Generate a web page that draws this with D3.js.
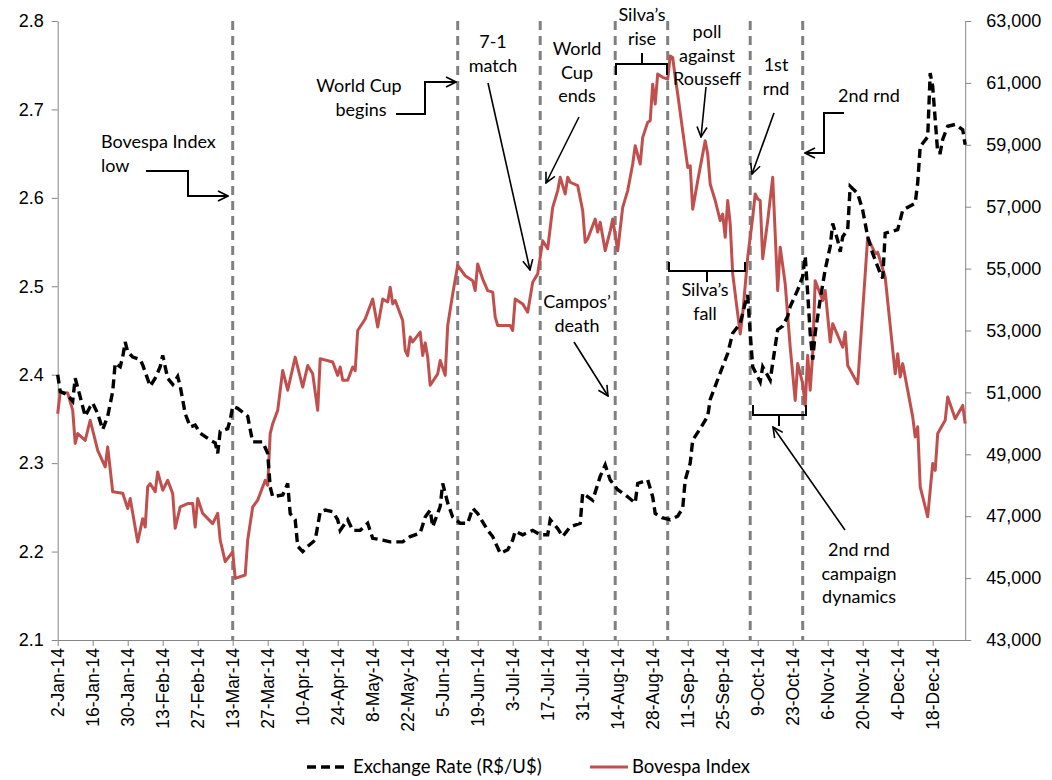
<!DOCTYPE html>
<html>
<head>
<meta charset="utf-8">
<script src="https://cdn.jsdelivr.net/npm/d3@7"></script>
<style>
  body { margin: 0; background: #fff; }
  svg { font-family: Lato, "Open Sans", sans-serif; }
  .axis path, .axis line { stroke: #868686; }
  .axis text { fill: #000; }
  .note { font-size: 18px; fill: #000; }
</style>
</head>
<body>
<svg id="chart" width="1052" height="780"></svg>
<script>
// tick labels on the date axis
const xTickLabels = ["2-Jan-14","16-Jan-14","30-Jan-14","13-Feb-14","27-Feb-14","13-Mar-14","27-Mar-14",
  "10-Apr-14","24-Apr-14","8-May-14","22-May-14","5-Jun-14","19-Jun-14","3-Jul-14","17-Jul-14",
  "31-Jul-14","14-Aug-14","28-Aug-14","11-Sep-14","25-Sep-14","9-Oct-14","23-Oct-14","6-Nov-14",
  "20-Nov-14","4-Dec-14","18-Dec-14"];
const leftTicks = [2.1, 2.2, 2.3, 2.4, 2.5, 2.6, 2.7, 2.8];
const rightTicks = [43000, 45000, 47000, 49000, 51000, 53000, 55000, 57000, 59000, 61000, 63000];

// exchange rate R$/U$
const exchangeRate = [
  ["2014-01-02",2.400],["2014-01-03",2.381],["2014-01-06",2.377],["2014-01-08",2.370],["2014-01-09",2.396],
  ["2014-01-11",2.375],["2014-01-13",2.353],["2014-01-15",2.364],["2014-01-16",2.368],["2014-01-18",2.356],
  ["2014-01-20",2.338],["2014-01-22",2.353],["2014-01-24",2.381],["2014-01-25",2.413],["2014-01-27",2.409],
  ["2014-01-28",2.420],["2014-01-29",2.437],["2014-01-30",2.426],["2014-02-01",2.420],["2014-02-04",2.417],
  ["2014-02-05",2.411],["2014-02-08",2.387],["2014-02-10",2.396],["2014-02-12",2.409],["2014-02-13",2.422],
  ["2014-02-15",2.396],["2014-02-17",2.389],["2014-02-19",2.398],["2014-02-20",2.387],["2014-02-22",2.356],
  ["2014-02-24",2.341],["2014-02-26",2.343],["2014-02-28",2.334],["2014-03-04",2.326],["2014-03-06",2.323],
  ["2014-03-07",2.311],["2014-03-08",2.336],["2014-03-11",2.339],["2014-03-12",2.349],["2014-03-13",2.364],
  ["2014-03-15",2.362],["2014-03-19",2.353],["2014-03-20",2.338],["2014-03-21",2.324],["2014-03-25",2.324],
  ["2014-03-27",2.311],["2014-03-28",2.273],["2014-03-29",2.262],["2014-04-02",2.264],["2014-04-04",2.277],
  ["2014-04-05",2.243],["2014-04-07",2.236],["2014-04-08",2.206],["2014-04-10",2.200],["2014-04-12",2.206],
  ["2014-04-15",2.213],["2014-04-17",2.245],["2014-04-19",2.247],["2014-04-22",2.245],["2014-04-24",2.236],
  ["2014-04-25",2.224],["2014-04-28",2.236],["2014-04-30",2.224],["2014-05-03",2.224],["2014-05-06",2.232],
  ["2014-05-08",2.215],["2014-05-12",2.213],["2014-05-15",2.211],["2014-05-20",2.211],["2014-05-23",2.217],
  ["2014-05-27",2.221],["2014-05-29",2.239],["2014-05-31",2.247],["2014-06-01",2.228],["2014-06-04",2.251],
  ["2014-06-05",2.277],["2014-06-07",2.255],["2014-06-09",2.239],["2014-06-12",2.232],["2014-06-15",2.232],
  ["2014-06-17",2.249],["2014-06-19",2.243],["2014-06-23",2.224],["2014-06-25",2.217],["2014-06-28",2.198],
  ["2014-07-01",2.202],["2014-07-03",2.213],["2014-07-04",2.223],["2014-07-07",2.219],["2014-07-11",2.224],
  ["2014-07-14",2.219],["2014-07-17",2.219],["2014-07-18",2.236],["2014-07-21",2.226],["2014-07-23",2.217],
  ["2014-07-26",2.228],["2014-07-30",2.232],["2014-07-31",2.266],["2014-08-04",2.258],["2014-08-07",2.285],
  ["2014-08-09",2.298],["2014-08-11",2.281],["2014-08-14",2.270],["2014-08-18",2.262],["2014-08-21",2.255],
  ["2014-08-22",2.277],["2014-08-26",2.281],["2014-08-28",2.262],["2014-08-29",2.243],["2014-09-01",2.238],
  ["2014-09-04",2.236],["2014-09-07",2.240],["2014-09-09",2.249],["2014-09-10",2.281],["2014-09-12",2.300],
  ["2014-09-13",2.326],["2014-09-16",2.339],["2014-09-19",2.353],["2014-09-20",2.372],["2014-09-24",2.402],
  ["2014-09-27",2.424],["2014-09-29",2.447],["2014-10-02",2.458],["2014-10-04",2.481],["2014-10-05",2.490],
  ["2014-10-06",2.447],["2014-10-07",2.409],["2014-10-10",2.392],["2014-10-11",2.409],["2014-10-14",2.394],
  ["2014-10-15",2.413],["2014-10-17",2.451],["2014-10-19",2.455],["2014-10-21",2.466],["2014-10-22",2.477],
  ["2014-10-25",2.496],["2014-10-27",2.511],["2014-10-28",2.534],["2014-10-29",2.492],["2014-10-30",2.447],
  ["2014-10-31",2.417],["2014-11-01",2.447],["2014-11-03",2.485],["2014-11-05",2.519],["2014-11-07",2.545],
  ["2014-11-08",2.571],["2014-11-10",2.552],["2014-11-11",2.539],["2014-11-12",2.556],["2014-11-14",2.564],
  ["2014-11-15",2.613],["2014-11-18",2.605],["2014-11-20",2.586],["2014-11-22",2.556],["2014-11-24",2.537],
  ["2014-11-27",2.515],["2014-11-28",2.509],["2014-11-29",2.560],["2014-12-04",2.564],["2014-12-06",2.586],
  ["2014-12-11",2.594],["2014-12-12",2.617],["2014-12-13",2.658],["2014-12-16",2.669],["2014-12-17",2.741],
  ["2014-12-18",2.726],["2014-12-20",2.651],["2014-12-21",2.651],["2014-12-22",2.666],["2014-12-24",2.681],
  ["2014-12-27",2.683],["2014-12-30",2.677],["2014-12-31",2.660]
];

// Bovespa index (right axis)
const bovespa = [
  ["2014-01-02",50310],["2014-01-03",51010],["2014-01-06",50980],["2014-01-08",50420],["2014-01-09",49350],
  ["2014-01-10",49670],["2014-01-13",49450],["2014-01-15",50100],["2014-01-18",49130],["2014-01-21",48590],
  ["2014-01-22",49240],["2014-01-24",47790],["2014-01-28",47740],["2014-01-30",47250],["2014-01-31",47570],
  ["2014-02-03",46170],["2014-02-05",46920],["2014-02-06",46650],["2014-02-07",47950],["2014-02-08",48050],
  ["2014-02-10",47790],["2014-02-11",48430],["2014-02-13",47840],["2014-02-15",48160],["2014-02-17",47730],
  ["2014-02-18",46610],["2014-02-20",47300],["2014-02-23",47410],["2014-02-25",47410],["2014-02-26",46650],
  ["2014-02-27",47570],["2014-03-01",47090],["2014-03-05",46760],["2014-03-07",47090],["2014-03-08",46230],
  ["2014-03-10",45530],["2014-03-13",45850],["2014-03-14",44990],["2014-03-18",45100],["2014-03-19",46230],
  ["2014-03-21",47300],["2014-03-23",47520],["2014-03-26",48160],["2014-03-27",48000],["2014-03-28",49670],
  ["2014-03-29",49990],["2014-03-31",50420],["2014-04-02",51710],["2014-04-04",51070],["2014-04-07",52140],
  ["2014-04-10",51170],["2014-04-12",51870],["2014-04-14",51600],["2014-04-16",50420],["2014-04-17",52090],
  ["2014-04-22",51980],["2014-04-24",51550],["2014-04-25",51820],["2014-04-26",51390],["2014-04-28",51390],
  ["2014-04-30",51820],["2014-05-01",51700],["2014-05-02",53000],["2014-05-05",53370],["2014-05-08",54020],
  ["2014-05-10",53110],["2014-05-12",54020],["2014-05-14",53920],["2014-05-15",54400],["2014-05-16",53860],
  ["2014-05-17",53970],["2014-05-20",53320],["2014-05-21",52360],["2014-05-22",52190],["2014-05-23",52790],
  ["2014-05-24",52630],["2014-05-27",52950],["2014-05-28",52190],["2014-05-29",52600],["2014-05-30",52140],
  ["2014-05-31",51230],["2014-06-03",51600],["2014-06-04",52030],["2014-06-06",51550],["2014-06-07",53160],
  ["2014-06-09",54180],["2014-06-11",55100],["2014-06-14",54770],["2014-06-17",54610],["2014-06-18",54290],
  ["2014-06-19",55150],["2014-06-21",54660],["2014-06-23",54290],["2014-06-25",54240],["2014-06-26",53430],
  ["2014-06-27",53160],["2014-07-02",53160],["2014-07-03",53000],["2014-07-04",54020],["2014-07-07",53860],
  ["2014-07-09",53590],["2014-07-11",54560],["2014-07-13",54830],["2014-07-15",55900],["2014-07-17",55640],
  ["2014-07-19",56980],["2014-07-21",57520],["2014-07-22",57950],["2014-07-24",57410],["2014-07-25",57950],
  ["2014-07-26",57790],["2014-07-29",57680],["2014-07-31",56870],["2014-08-01",55850],["2014-08-02",55960],
  ["2014-08-05",56600],["2014-08-06",56180],["2014-08-07",56500],["2014-08-09",55580],["2014-08-11",56220],
  ["2014-08-12",56600],["2014-08-14",55580],["2014-08-16",56980],["2014-08-18",57520],["2014-08-20",58380],
  ["2014-08-21",58970],["2014-08-23",58380],["2014-08-24",59240],["2014-08-26",59730],["2014-08-27",59780],
  ["2014-08-28",60960],["2014-08-29",60320],["2014-08-30",61290],["2014-09-01",61180],["2014-09-03",61120],
  ["2014-09-04",61870],["2014-09-05",61820],["2014-09-06",61180],["2014-09-07",60640],["2014-09-09",59450],
  ["2014-09-11",58270],["2014-09-12",58320],["2014-09-13",56920],["2014-09-15",57840],["2014-09-16",58270],
  ["2014-09-18",59130],["2014-09-19",58700],["2014-09-20",57730],["2014-09-22",57200],["2014-09-24",56550],
  ["2014-09-25",56760],["2014-09-26",56010],["2014-09-27",57200],["2014-09-28",56440],["2014-09-29",54830],
  ["2014-10-02",52890],["2014-10-03",53540],["2014-10-05",55370],["2014-10-07",56660],["2014-10-08",57410],
  ["2014-10-09",57250],["2014-10-10",57200],["2014-10-11",55320],["2014-10-13",56550],["2014-10-15",57950],
  ["2014-10-17",54290],["2014-10-18",55690],["2014-10-20",54510],["2014-10-22",52460],["2014-10-24",50740],
  ["2014-10-25",51930],["2014-10-27",51280],["2014-10-28",50580],["2014-10-29",52200],["2014-10-30",51070],
  ["2014-10-31",52250],["2014-11-01",54610],["2014-11-04",53970],["2014-11-05",54290],["2014-11-07",52630],
  ["2014-11-08",53220],["2014-11-12",52460],["2014-11-13",52950],["2014-11-14",51870],["2014-11-18",51280],
  ["2014-11-22",56010],["2014-11-25",55480],["2014-11-26",55530],["2014-11-29",54720],["2014-12-03",51600],
  ["2014-12-04",52250],["2014-12-05",51500],["2014-12-06",51930],["2014-12-10",50210],["2014-12-11",49560],
  ["2014-12-12",49890],["2014-12-13",47950],["2014-12-16",46980],["2014-12-18",48700],["2014-12-19",48480],
  ["2014-12-20",49670],["2014-12-23",50100],["2014-12-24",50850],["2014-12-27",50150],["2014-12-30",50580],
  ["2014-12-31",49990]
];

// dates of the dashed event lines
const eventDates = ["2014-03-13","2014-06-11","2014-07-14","2014-08-13","2014-09-03","2014-10-06","2014-10-27"];

const parseIso = d3.timeParse("%Y-%m-%d");
const parseTick = d3.timeParse("%d-%b-%y");

const svg = d3.select("#chart");
const plotLeft = 57.7, plotRight = 965.2, plotTop = 21, plotBottom = 640;

const x = d3.scaleTime()
    .domain([parseIso("2014-01-02"), parseIso("2014-12-31")])
    .range([plotLeft, plotRight]);
const yL = d3.scaleLinear().domain([2.1, 2.8]).range([plotBottom, plotTop]);
const yR = d3.scaleLinear().domain([43000, 63000]).range([plotBottom, plotTop]);

// axes
const xAxis = svg.append("g").attr("class", "axis")
    .attr("transform", `translate(0,${plotBottom})`)
    .call(d3.axisBottom(x)
        .tickValues(xTickLabels.map(parseTick))
        .tickFormat(d3.timeFormat("%-d-%b-%y"))
        .tickSize(6).tickSizeOuter(0));
xAxis.selectAll("text")
    .attr("font-size", 17.5)
    .attr("text-anchor", "end")
    .attr("transform", "rotate(-90)")
    .attr("x", -8).attr("y", 0).attr("dy", "0.35em");

svg.append("g").attr("class", "axis")
    .attr("transform", `translate(${plotLeft},0)`)
    .call(d3.axisLeft(yL).tickValues(leftTicks).tickFormat(d3.format(".1f")).tickSize(6).tickSizeOuter(0))
    .selectAll("text").attr("font-size", 18).attr("x", -14);

svg.append("g").attr("class", "axis")
    .attr("transform", `translate(${plotRight},0)`)
    .call(d3.axisRight(yR).tickValues(rightTicks).tickFormat(d3.format(",")).tickSize(6).tickSizeOuter(0))
    .selectAll("text").attr("font-size", 18).attr("x", 21);

svg.selectAll(".axis .domain").attr("stroke", "#868686");

// event lines
svg.append("g").selectAll("line")
    .data(eventDates)
    .enter()
    .append("line")
    .attr("x1", d => x(parseIso(d))).attr("x2", d => x(parseIso(d)))
    .attr("y1", plotTop).attr("y2", plotBottom)
    .attr("stroke", "#808080")
    .attr("stroke-width", 3)
    .attr("stroke-dasharray", "9,6");

// series
const lineL = d3.line().x(d => x(parseIso(d[0]))).y(d => yL(d[1]));
const lineR = d3.line().x(d => x(parseIso(d[0]))).y(d => yR(d[1]));

svg.append("path")
    .datum(bovespa)
    .attr("d", lineR)
    .attr("fill", "none")
    .attr("stroke", "#C0504D")
    .attr("stroke-width", 3)
    .attr("stroke-linejoin", "round");

svg.append("path")
    .datum(exchangeRate)
    .attr("d", lineL)
    .attr("fill", "none")
    .attr("stroke", "#000")
    .attr("stroke-width", 3.4)
    .attr("stroke-dasharray", "9,5");

// annotations
svg.append("defs").append("marker")
    .attr("id", "arrow")
    .attr("viewBox", "0 0 12 12")
    .attr("refX", 11).attr("refY", 6)
    .attr("markerWidth", 12).attr("markerHeight", 12)
    .attr("markerUnits", "userSpaceOnUse")
    .attr("orient", "auto")
    .append("path")
    .attr("d", "M1,1 L11,6 L1,11")
    .attr("fill", "none")
    .attr("stroke", "#000")
    .attr("stroke-width", 1.6);

const notes = svg.append("g");

function label(lines, cx, cy, anchor) {
    const t = notes.append("text").attr("class", "note")
        .attr("text-anchor", anchor || "middle");
    lines.forEach((s, i) => {
        t.append("tspan").attr("x", cx).attr("y", cy + i * 23.5).attr("dy", "0.35em").text(s);
    });
}
function path(pts, arrow, w) {
    notes.append("path")
        .attr("d", d3.line()(pts))
        .attr("fill", "none")
        .attr("stroke", "#000")
        .attr("stroke-width", w || 2)
        .attr("marker-end", arrow ? "url(#arrow)" : null);
}

label(["Bovespa Index", "low"], 101, 142, "start");
path([[146, 171], [188, 171], [188, 196], [228, 196]], true);

label(["World Cup"], 359, 86);
label(["begins"], 361, 110);
path([[396, 114], [425, 114], [425, 82], [456, 82]], true);

label(["7-1", "match"], 493, 42);
path([[488, 83], [530, 270]], true, 1.6);

label(["World", "Cup", "ends"], 577, 49);
path([[579, 117], [546, 183]], true, 1.6);

label(["Silva\u2019s", "rise"], 642, 15);
path([[616, 75], [616, 64], [667, 64], [667, 75]], false);
path([[642, 64], [642, 53]], false);

label(["poll", "against", "Rousseff"], 707, 32);
path([[706, 87], [701, 137]], true, 1.6);

label(["1st", "rnd"], 776, 65);
path([[774, 113], [752, 174]], true, 1.6);

label(["2nd rnd"], 869, 96);
path([[844, 113], [824, 113], [824, 153], [805, 153]], true);

label(["Campos\u2019", "death"], 577, 302);
path([[574, 342], [608, 396]], true, 1.6);

label(["Silva\u2019s", "fall"], 705, 290);
path([[669, 262], [669, 271], [745, 271], [745, 262]], false);
path([[707, 271], [707, 282]], false);

path([[753, 405], [753, 415], [806, 415], [806, 405]], false);
path([[779, 415], [779, 426]], false);
path([[845, 530], [773, 427]], true, 1.6);
label(["2nd rnd", "campaign", "dynamics"], 859, 550);

// legend
const legend = svg.append("g").attr("font-size", 18.5);
legend.append("line")
    .attr("x1", 307).attr("x2", 347).attr("y1", 767).attr("y2", 767)
    .attr("stroke", "#000").attr("stroke-width", 3.4).attr("stroke-dasharray", "9,5");
legend.append("text").attr("x", 353).attr("y", 767).attr("dy", "0.35em").text("Exchange Rate (R$/U$)");
legend.append("line")
    .attr("x1", 590).attr("x2", 628).attr("y1", 767).attr("y2", 767)
    .attr("stroke", "#C0504D").attr("stroke-width", 3);
legend.append("text").attr("x", 632).attr("y", 767).attr("dy", "0.35em").text("Bovespa Index");
</script>
</body>
</html>
